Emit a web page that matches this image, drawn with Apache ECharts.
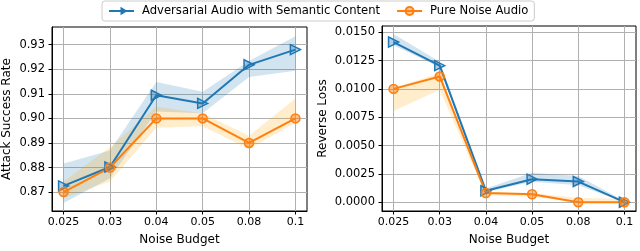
<!DOCTYPE html>
<html><head><meta charset="utf-8">
<script src="https://cdn.jsdelivr.net/npm/echarts@6/dist/echarts.min.js"></script>
<style>html,body{margin:0;padding:0;background:#fff}#c{width:640px;height:251px}</style>
</head><body><div id="c"></div>
<script>
const catLabels = ['0.025','0.03','0.04','0.05','0.08','0.1'];
const asrAdv      = [0.8725, 0.8802, 0.9094, 0.9061, 0.9218, 0.9280];
const asrAdvLow   = [0.8656, 0.8756, 0.9028, 0.9021, 0.9168, 0.9194];
const asrAdvHigh  = [0.8816, 0.8869, 0.9148, 0.9108, 0.9234, 0.9334];
const asrNoise     = [0.870, 0.880, 0.900, 0.900, 0.890, 0.900];
const asrNoiseLow  = [0.8676, 0.8743, 0.8962, 0.8968, 0.8875, 0.8982];
const asrNoiseHigh = [0.8743, 0.8882, 0.9048, 0.9020, 0.8929, 0.9081];
const rlAdv      = [0.01413, 0.01205, 0.0010, 0.00203, 0.00182, 0.0000];
const rlAdvLow   = [0.01384, 0.0119, 0.0009, 0.0018, 0.0015, 0.0000];
const rlAdvHigh  = [0.01485, 0.0124, 0.0012, 0.0026, 0.0023, 0.0001];
const rlNoise     = [0.0100, 0.0111, 0.0008, 0.0007, 0.0000, 0.0000];
const rlNoiseLow  = [0.00805, 0.00993, 0.0006, 0.0005, 0.0000, 0.0000];
const rlNoiseHigh = [0.0101, 0.01138, 0.0009, 0.0008, 0.00037, 0.0003];
const asrTicks = [0.87, 0.88, 0.89, 0.90, 0.91, 0.92, 0.93];
const rlTicks = [0, 0.0025, 0.005, 0.0075, 0.01, 0.0125, 0.015];
const seriesNames = ['Adversarial Audio with Semantic Content', 'Pure Noise Audio'];

const BLUE = '#1f77b4', ORANGE = '#ff7f0e';
const FONT = 'DejaVu Sans';
const idx = catLabels.map((_, i) => i);
const pts = arr => arr.map((v, i) => [i, v]);

function xAxisCfg(gi) {
  return {
    type: 'value', gridIndex: gi, min: -0.25, max: 5.25,
    name: 'Noise Budget', nameLocation: 'middle', nameGap: 23,
    nameTextStyle: {fontFamily: FONT, fontSize: 12, color: '#000'},
    axisLine: {show: true, onZero: false, lineStyle: {color: '#000', width: 1}},
    axisTick: {show: true, length: 3.5, lineStyle: {color: '#000'}, customValues: idx},
    axisLabel: {fontFamily: FONT, fontSize: 11, color: '#000', margin: 6, customValues: idx,
      formatter: v => catLabels[Math.round(v)]},
    splitLine: {show: true, lineStyle: {color: '#b0b0b0', width: 1}}
  };
}
function yAxisCfg(gi, min, max, ticks, name, fmt, nameGap) {
  return {
    type: 'value', gridIndex: gi, min: min, max: max,
    name: name, nameLocation: 'middle', nameGap: nameGap,
    nameTextStyle: {fontFamily: FONT, fontSize: 12, color: '#000'},
    axisLine: {show: true, onZero: false, lineStyle: {color: '#000', width: 1}},
    axisTick: {show: true, length: 3.5, lineStyle: {color: '#000'}, customValues: ticks},
    axisLabel: {fontFamily: FONT, fontSize: 11.5, color: '#000', margin: 7, customValues: ticks,
      formatter: v => fmt(v)},
    splitLine: {show: true, lineStyle: {color: '#b0b0b0', width: 1}}
  };
}
function bandSeries(gi, low, high, color) {
  return {
    type: 'custom', xAxisIndex: gi, yAxisIndex: gi, silent: true, z: 1,
    data: [[0, low[0]]],
    renderItem: function (params, api) {
      const poly = [];
      for (let i = 0; i < high.length; i++) poly.push(api.coord([i, high[i]]));
      for (let i = low.length - 1; i >= 0; i--) poly.push(api.coord([i, low[i]]));
      return {type: 'polygon', shape: {points: poly}, style: {fill: color, stroke: null}};
    }
  };
}
function mainSeries(gi, name, vals, color, fill, symbol, rot) {
  return {
    type: 'line', name: name, xAxisIndex: gi, yAxisIndex: gi, data: pts(vals),
    symbol: symbol, symbolSize: symbol === 'triangle' ? 10 : 9, symbolRotate: rot, showAllSymbol: true,
    lineStyle: {color: color, width: 2}, z: 3,
    itemStyle: {color: fill, borderColor: color, borderWidth: 1.5}
  };
}

const chart = echarts.init(document.getElementById('c'), null, {renderer: 'canvas'});
chart.setOption({
  animation: false,
  backgroundColor: '#fff',
  legend: {
    data: [
      {name: seriesNames[0], icon: 'path://M0,5 L30,5 M15,2 L15,8 L20,5 Z'},
      {name: seriesNames[1]}
    ],
    left: 102, top: 1, padding: [4, 6], itemGap: 16, itemWidth: 25, itemHeight: 10,
    borderColor: '#cccccc', borderWidth: 1, borderRadius: 3,
    textStyle: {fontFamily: FONT, fontSize: 11.6, color: '#000', padding: [0, 0, 0, 3]}
  },
  grid: [
    {left: 50, right: 333, top: 27, bottom: 36, show: true, borderColor: '#000', borderWidth: 1, backgroundColor: 'transparent'},
    {left: 382, right: 4, top: 26, bottom: 36, show: true, borderColor: '#000', borderWidth: 1, backgroundColor: 'transparent'}
  ],
  xAxis: [xAxisCfg(0), xAxisCfg(1)],
  yAxis: [
    yAxisCfg(0, 0.8623, 0.9372, asrTicks, 'Attack Success Rate', v => v.toFixed(2), 39),
    yAxisCfg(1, -0.00078, 0.01555, rlTicks, 'Reverse Loss', v => v.toFixed(4), 53)
  ],
  series: [
    bandSeries(0, asrAdvLow, asrAdvHigh, 'rgba(31,119,180,0.2)'),
    bandSeries(0, asrNoiseLow, asrNoiseHigh, 'rgba(255,165,0,0.2)'),
    bandSeries(1, rlAdvLow, rlAdvHigh, 'rgba(31,119,180,0.2)'),
    bandSeries(1, rlNoiseLow, rlNoiseHigh, 'rgba(255,165,0,0.2)'),
    mainSeries(0, seriesNames[0], asrAdv, BLUE, 'rgba(31,119,180,0.35)', 'triangle', -90),
    mainSeries(0, seriesNames[1], asrNoise, ORANGE, 'rgba(255,127,14,0.45)', 'circle', 0),
    mainSeries(1, seriesNames[0], rlAdv, BLUE, 'rgba(31,119,180,0.35)', 'triangle', -90),
    mainSeries(1, seriesNames[1], rlNoise, ORANGE, 'rgba(255,127,14,0.45)', 'circle', 0)
  ]
});
</script></body></html>
